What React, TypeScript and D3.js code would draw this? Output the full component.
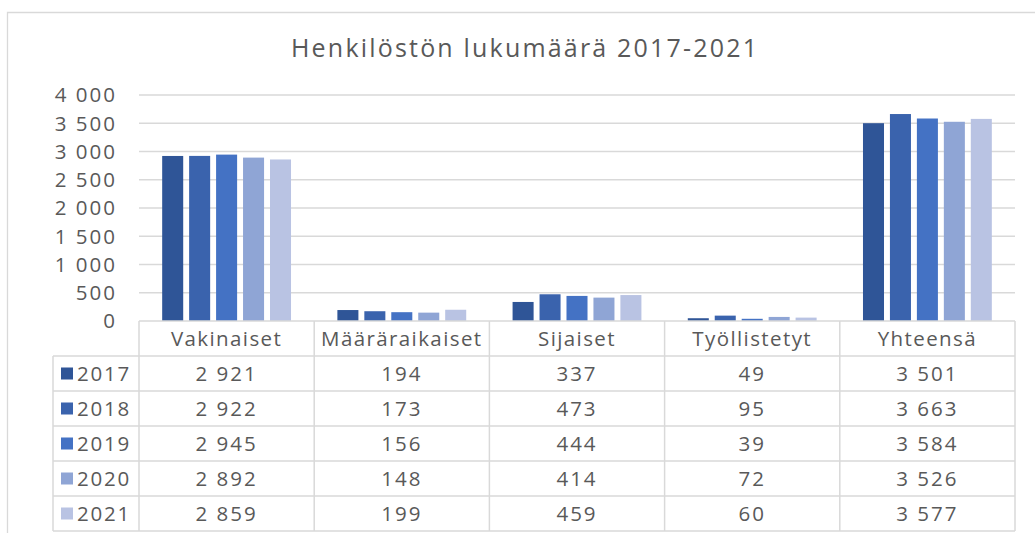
import React from 'react';
import * as d3 from 'd3';

const title = 'Henkilöstön lukumäärä 2017-2021';
const categories = ['Vakinaiset', 'Määräraikaiset', 'Sijaiset', 'Työllistetyt', 'Yhteensä'];
const years = ['2017', '2018', '2019', '2020', '2021'];
const v2017 = [2921, 194, 337, 49, 3501];
const v2018 = [2922, 173, 473, 95, 3663];
const v2019 = [2945, 156, 444, 39, 3584];
const v2020 = [2892, 148, 414, 72, 3526];
const v2021 = [2859, 199, 459, 60, 3577];
const yTicks = [0, 500, 1000, 1500, 2000, 2500, 3000, 3500, 4000];
const colors = ['#2f5597', '#3a63ad', '#4472c4', '#8fa5d5', '#b9c3e3'];

const series = [v2017, v2018, v2019, v2020, v2021];

// finnish style thousands: "2 921"
const fmt = (n: number) => d3.format(',')(n).replace(/,/g, ' ');

const W = 1035;
const H = 533;
const left = 139;
const right = 1015;
const top = 95;
const zero = 321;
const rowH = 35;
const legendLeft = 53;
const textColor = '#595959';
const lineColor = '#d9d9d9';
const font = '"Open Sans", sans-serif';

export default function App() {
  const x = d3.scaleBand<string>().domain(categories).range([left, right]);
  const xi = d3
    .scaleBand<string>()
    .domain(years)
    .range([0, x.bandwidth()])
    .paddingInner(0.22)
    .paddingOuter(0.86);
  const y = d3.scaleLinear().domain([0, 4000]).range([zero, top]);

  const headerBottom = zero + rowH;
  const tableBottom = headerBottom + rowH * years.length;

  return (
    <svg width={W} height={H} style={{ position: 'absolute', left: 0, top: 0, background: '#fff' }}>
      <rect x={0} y={0} width={W} height={H} fill="#fff" />
      {/* chart frame */}
      <path d={`M7.5,${H} V12.5 H${W}`} fill="none" stroke={lineColor} strokeWidth={1.3} />

      <text
        x={524}
        y={57}
        textAnchor="middle"
        fontFamily={font}
        fontSize={25}
        fill={textColor}
        textLength={466}
        lengthAdjust="spacing"
      >
        {title}
      </text>

      {/* gridlines and y labels */}
      {yTicks.map((t) => (
        <g key={t}>
          {t > 0 && (
            <line x1={left} x2={right} y1={y(t)} y2={y(t)} stroke={lineColor} strokeWidth={1.3} />
          )}
          <text
            x={117}
            y={y(t)}
            dy="0.36em"
            textAnchor="end"
            fontFamily={font}
            fontSize={20.5}
            letterSpacing={2}
            fill={textColor}
          >
            {fmt(t)}
          </text>
        </g>
      ))}

      {/* bars */}
      {categories.map((c, ci) => (
        <g key={c} transform={`translate(${x(c)},0)`}>
          {series.map((s, si) => (
            <rect
              key={years[si]}
              x={xi(years[si])}
              y={y(s[ci])}
              width={xi.bandwidth()}
              height={zero - y(s[ci])}
              fill={colors[si]}
            />
          ))}
        </g>
      ))}

      {/* data table */}
      <g fill="none" stroke={lineColor} strokeWidth={1.5}>
        <line x1={left} x2={right} y1={zero} y2={zero} />
        {d3.range(years.length + 1).map((i) => (
          <line
            key={i}
            x1={legendLeft}
            x2={right}
            y1={headerBottom + i * rowH}
            y2={headerBottom + i * rowH}
          />
        ))}
        <line x1={legendLeft} x2={legendLeft} y1={headerBottom} y2={tableBottom} />
        {categories.map((c) => (
          <line key={c} x1={x(c)} x2={x(c)} y1={zero} y2={tableBottom} />
        ))}
        <line x1={right} x2={right} y1={zero} y2={tableBottom} />
      </g>

      {categories.map((c) => (
        <text
          key={c}
          x={(x(c) as number) + x.bandwidth() / 2}
          y={zero + rowH / 2}
          dy="0.36em"
          textAnchor="middle"
          fontFamily={font}
          fontSize={20.5}
          letterSpacing={1.4}
          fill={textColor}
        >
          {c}
        </text>
      ))}

      {years.map((yr, si) => {
        const cy = headerBottom + si * rowH + rowH / 2;
        return (
          <g key={yr}>
            <rect x={61} y={cy - 6} width={12} height={12} fill={colors[si]} />
            <text
              x={77}
              y={cy}
              dy="0.36em"
              fontFamily={font}
              fontSize={20.5}
              letterSpacing={1.8}
              fill={textColor}
            >
              {yr}
            </text>
            {categories.map((c, ci) => (
              <text
                key={c}
                x={(x(c) as number) + x.bandwidth() / 2}
                y={cy}
                dy="0.36em"
                textAnchor="middle"
                fontFamily={font}
                fontSize={20.5}
                letterSpacing={2}
                fill={textColor}
              >
                {fmt(series[si][ci])}
              </text>
            ))}
          </g>
        );
      })}
    </svg>
  );
}
